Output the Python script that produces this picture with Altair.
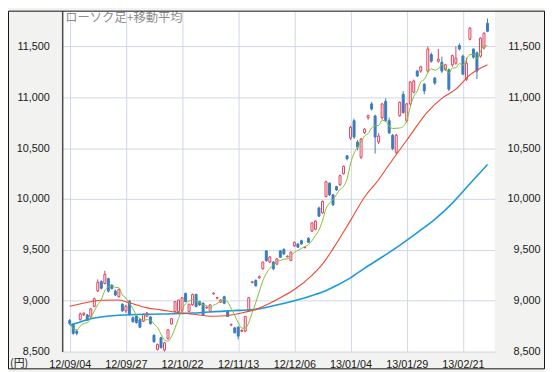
import json
import altair as alt
import pandas as pd

# ---------------- data ----------------
dates = [
    "12/09/04", "12/09/05", "12/09/06", "12/09/07", "12/09/10", "12/09/11", "12/09/12", "12/09/13",
    "12/09/14", "12/09/18", "12/09/19", "12/09/20", "12/09/21", "12/09/24", "12/09/25", "12/09/26",
    "12/09/27", "12/09/28",
    "12/10/01", "12/10/02", "12/10/03", "12/10/04", "12/10/05", "12/10/09", "12/10/10", "12/10/11",
    "12/10/12", "12/10/15", "12/10/16", "12/10/17", "12/10/18", "12/10/19", "12/10/22", "12/10/23",
    "12/10/24", "12/10/25", "12/10/26", "12/10/29", "12/10/30", "12/10/31",
    "12/11/01", "12/11/02", "12/11/05", "12/11/06", "12/11/07", "12/11/08", "12/11/09", "12/11/12",
    "12/11/13", "12/11/14", "12/11/15", "12/11/16", "12/11/19", "12/11/20", "12/11/21", "12/11/22",
    "12/11/26", "12/11/27", "12/11/28", "12/11/29", "12/11/30",
    "12/12/03", "12/12/04", "12/12/05", "12/12/06", "12/12/07", "12/12/10", "12/12/11", "12/12/12",
    "12/12/13", "12/12/14", "12/12/17", "12/12/18", "12/12/19", "12/12/20", "12/12/21", "12/12/25",
    "12/12/26", "12/12/27", "12/12/28",
    "13/01/04", "13/01/07", "13/01/08", "13/01/09", "13/01/10", "13/01/11", "13/01/15", "13/01/16",
    "13/01/17", "13/01/18", "13/01/21", "13/01/22", "13/01/23", "13/01/24", "13/01/25", "13/01/28",
    "13/01/29", "13/01/30", "13/01/31",
    "13/02/01", "13/02/04", "13/02/05", "13/02/06", "13/02/07", "13/02/08", "13/02/12", "13/02/13",
    "13/02/14", "13/02/15", "13/02/18", "13/02/19", "13/02/20", "13/02/21", "13/02/22", "13/02/25",
    "13/02/26", "13/02/27", "13/02/28",
    "13/03/01", "13/03/04",
]

open_ = [
    8806, 8770, 8700, 8814, 8862, 8860, 8840, 8944, 9095, 9190, 9170, 9217, 9150, 9095, 9040, 8966,
    8900, 8998,
    8833, 8850, 8814, 8798, 8846, 8840, 8661, 8522, 8636, 8515, 8627, 8772, 8894, 8894, 8901, 9072,
    8895, 8959, 9062, 8991, 8975, 8930,
    8895, 9068, 9025, 8985, 9040, 8895, 8762, 8733, 8740, 8700, 8700, 8911, 9180, 9200, 9225, 9315,
    9490, 9380, 9380, 9360, 9490,
    9505, 9432, 9395, 9540, 9558, 9590, 9522, 9614, 9685, 9703, 9912, 9864, 10025, 10155, 10041, 10122,
    10140, 10250, 10425,
    10600, 10770, 10560, 10410, 10652, 10800, 10935, 10817, 10560, 10800, 10960, 10770, 10627, 10460,
    10820, 11030, 10770, 10935, 11050,
    11258, 11258, 11128, 11258, 11420, 11190, 11355, 11345, 11275, 11270, 11320, 11335, 11510, 11405,
    11177, 11570, 11475, 11437, 11405,
    11485, 11728,
]

high = [
    8820, 8780, 8720, 8885, 8885, 8870, 8930, 9030, 9210, 9200, 9295, 9225, 9165, 9110, 9120, 8975,
    8960, 9005,
    8845, 8860, 8825, 8875, 8890, 8850, 8670, 8580, 8645, 8595, 8720, 8830, 8995, 9010, 9035, 9080,
    8970, 9070, 9070, 9000, 8985, 8945,
    8965, 9085, 9040, 9015, 9050, 8905, 8775, 8745, 8750, 8720, 8850, 9035, 9195, 9210, 9250, 9385,
    9495, 9440, 9390, 9420, 9500,
    9515, 9445, 9485, 9580, 9565, 9600, 9535, 9625, 9770, 9790, 9925, 9985, 10180, 10165, 10050, 10130,
    10240, 10330, 10430,
    10720, 10790, 10580, 10600, 10695, 10830, 10955, 10830, 10650, 10945, 10990, 10800, 10640, 10640,
    10960, 11060, 10945, 11160, 11175,
    11270, 11310, 11140, 11500, 11440, 11200, 11475, 11400, 11330, 11285, 11420, 11500, 11530, 11420,
    11390, 11690, 11480, 11450, 11590,
    11640, 11775,
]

low = [
    8760, 8665, 8660, 8805, 8850, 8800, 8830, 8935, 9085, 9110, 9160, 9080, 9110, 9045, 9030, 8890,
    8880, 8855,
    8785, 8775, 8730, 8790, 8840, 8765, 8590, 8510, 8530, 8500, 8620, 8765, 8885, 8885, 8890, 8985,
    8885, 8950, 8935, 8950, 8850, 8920,
    8890, 9060, 9015, 8980, 8965, 8840, 8750, 8680, 8620, 8690, 8690, 8900, 9170, 9140, 9215, 9305,
    9385, 9370, 9300, 9350, 9420,
    9450, 9425, 9390, 9530, 9520, 9550, 9515, 9570, 9675, 9695, 9825, 9855, 10015, 10030, 9930, 10080,
    10130, 10240, 10380,
    10580, 10590, 10480, 10395, 10640, 10780, 10870, 10447, 10540, 10780, 10760, 10640, 10480, 10440,
    10810, 10840, 10750, 10920, 11040,
    11200, 11240, 11030, 11240, 11340, 11120, 11340, 11240, 11260, 11060, 11300, 11320, 11460, 11220,
    11160, 11560, 11380, 11180, 11390,
    11470, 11640,
]

close = [
    8775, 8679, 8680, 8871, 8878, 8810, 8920, 9020, 9180, 9123, 9260, 9095, 9120, 9056, 9110, 8901,
    8945, 8862,
    8794, 8785, 8740, 8869, 8879, 8775, 8596, 8570, 8539, 8587, 8715, 8824, 8991, 9007, 9030, 8991,
    8966, 9062, 8943, 8959, 8862, 8934,
    8959, 9072, 9030, 9007, 8975, 8846, 8765, 8685, 8652, 8708, 8846, 9030, 9186, 9147, 9235, 9380,
    9393, 9430, 9315, 9410, 9428,
    9460, 9437, 9477, 9575, 9527, 9558, 9527, 9575, 9766, 9783, 9831, 9977, 10170, 10041, 9944, 10090,
    10230, 10322, 10395,
    10705, 10610, 10510, 10590, 10688, 10820, 10885, 10610, 10620, 10935, 10770, 10650, 10495, 10627,
    10950, 10850, 10935, 11150, 11160,
    11210, 11300, 11063, 11475, 11355, 11140, 11375, 11258, 11320, 11080, 11410, 11385, 11475, 11227,
    11335, 11680, 11395, 11258, 11582,
    11630, 11650,
]

# 25-day moving average (red line), read at sampled days
ma25_day = [0, 6, 9, 14, 17, 22, 26, 32, 37, 40, 43, 46, 49, 53, 57, 60, 64, 69, 72, 75, 80, 84,
            88, 90, 96, 102, 106, 110, 114, 119]
ma25_val = [8945, 8990, 9005, 9008, 8980, 8930, 8910, 8880, 8860, 8848, 8850, 8860, 8880, 8915,
            8975, 9030, 9110, 9250, 9360, 9510, 9790, 10020, 10190, 10290, 10578, 10860, 10990,
            11080, 11220, 11320]

# 75-day moving average (blue line), read at sampled days
ma75_day = [0, 2, 7, 17, 26, 35, 44, 48, 53, 58, 64, 68, 72, 76, 80, 84, 89, 94, 99, 104, 109,
            114, 119]
ma75_val = [8760, 8781, 8830, 8862, 8869, 8879, 8898, 8905, 8915, 8950, 9000, 9040, 9085, 9150,
            9225, 9320, 9430, 9545, 9670, 9800, 9960, 10150, 10340]

tick_days = [0, 16, 32, 48, 64, 80, 96, 112]
y_ticks = [8500, 9000, 9500, 10000, 10500, 11000, 11500]

title_text = "ローソク足+移動平均"
unit_text = "(円)"

# ---------------- styling ----------------
UP = "#e0405c"
DOWN = "#3b7cbf"
GREEN = "#7fbf2e"
RED = "#f0452c"
BLUE = "#1c9ad8"
GRID = "#cfd6e6"
FONT = "Liberation Sans"

df = pd.DataFrame({"day": list(range(len(dates))), "date": dates, "open": open_,
                   "high": high, "low": low, "close": close})
ma25 = pd.DataFrame({"day": ma25_day, "value": ma25_val})
ma75 = pd.DataFrame({"day": ma75_day, "value": ma75_val})
one = pd.DataFrame({"a": [0]})

xscale = alt.Scale(domain=[-0.74, 119.67], nice=False, zero=False)
yscale = alt.Scale(domain=[8500, 11852], nice=False, zero=False)

label_map = {str(d): dates[d] for d in tick_days}
x_axis = alt.Axis(values=tick_days, labelExpr=f"{json.dumps(label_map)}[''+datum.value]",
                  grid=True, gridColor=GRID, gridWidth=1, domain=False, ticks=False,
                  labelPadding=7, labelFontSize=11, labelFont=FONT, labelColor="#1a1a1a",
                  title=None, labelFlush=False)
y_left = alt.Axis(values=y_ticks, format=",d", orient="left", grid=True, gridColor=GRID,
                  domain=True, domainColor="#4a4a4a", domainWidth=1.5, ticks=False,
                  labelPadding=13, labelFontSize=11, labelFont=FONT, labelColor="#1a1a1a",
                  title=None)
y_right = alt.Axis(values=y_ticks, format=",d", orient="right", grid=False, domain=False,
                   ticks=False, labelAlign="right", labelPadding=46, labelFontSize=11,
                   labelFont=FONT, labelColor="#1a1a1a", title=None)

X = alt.X("day:Q", scale=xscale, axis=x_axis)
is_up = "datum.close >= datum.open"

base = alt.Chart(df).encode(x=X)

wicks = base.mark_rule(strokeWidth=1).encode(
    y=alt.Y("low:Q", scale=yscale, axis=y_right),
    y2="high:Q",
    color=alt.condition(is_up, alt.value(UP), alt.value(DOWN)),
)

bodies = base.mark_bar(size=2, strokeWidth=1).encode(
    y=alt.Y("open:Q", scale=yscale, axis=y_left),
    y2="close:Q",
    fill=alt.condition(is_up, alt.value("white"), alt.value(DOWN)),
    stroke=alt.condition(is_up, alt.value(UP), alt.value(DOWN)),
)

ma5_line = base.transform_window(
    ma5="mean(close)", frame=[-4, 0], sort=[alt.SortField("day")]
).mark_line(color=GREEN, strokeWidth=1, interpolate="monotone").encode(
    y=alt.Y("ma5:Q", scale=yscale, axis=None)
)

ma25_line = alt.Chart(ma25).mark_line(color=RED, strokeWidth=1.1, interpolate="monotone").encode(
    x=X, y=alt.Y("value:Q", scale=yscale, axis=None),
)

ma75_line = alt.Chart(ma75).mark_line(color=BLUE, strokeWidth=1.6, interpolate="monotone").encode(
    x=X, y=alt.Y("value:Q", scale=yscale, axis=None),
)

title_mark = alt.Chart(one).mark_text(
    align="left", baseline="top", font="Noto Sans CJK JP", fontSize=12.5, color="#8c8c8c"
).encode(x=alt.value(3), y=alt.value(1), text=alt.value(title_text))

unit_mark = alt.Chart(one).mark_text(
    align="left", baseline="middle", font="Noto Sans CJK JP", fontSize=11, color="#1a1a1a"
).encode(x=alt.value(-53), y=alt.value(359), text=alt.value(unit_text))

frame = alt.Chart(one).mark_rect(fill="transparent", stroke="#111111", strokeWidth=1).encode(
    x=alt.value(-54.5), x2=alt.value(489.5), y=alt.value(0.5), y2=alt.value(363.5)
)

chart = alt.layer(
    wicks, bodies, ma75_line, ma25_line, ma5_line, title_mark, unit_mark, frame
).resolve_axis(y="independent").properties(
    width=439, height=346,
    autosize=alt.AutoSizeParams(type="none"),
    padding={"left": 55, "top": 0, "right": 51, "bottom": 18},
    background="#f2f2f0",
).configure_view(fill="white", strokeWidth=0)

chart.save("out.html", embed_options={"renderer": "svg", "actions": False})
